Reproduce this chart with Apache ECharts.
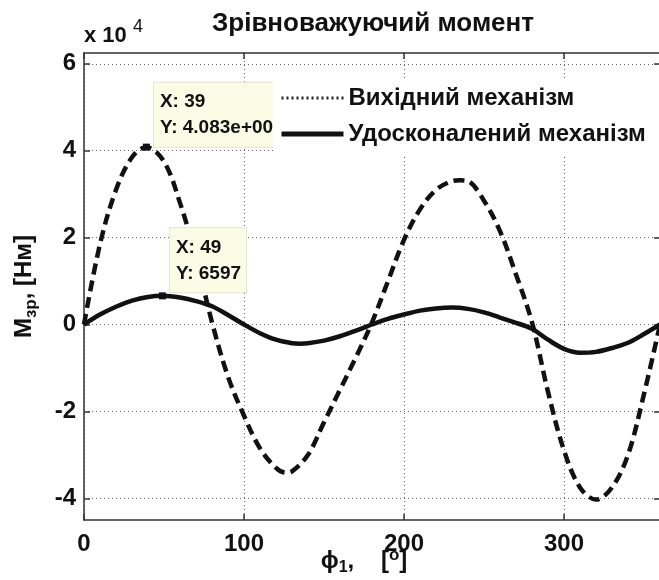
<!DOCTYPE html>
<html>
<head>
<meta charset="utf-8">
<script src="https://cdn.jsdelivr.net/npm/echarts@6/dist/echarts.min.js"></script>
<style>
html,body{margin:0;padding:0;background:#fff;}
#c{width:659px;height:580px;}
</style>
</head>
<body>
<div id="c"></div>
<script>
// ---- data ----
var titleText = 'Зрівноважуючий момент';
var seriesNames = ['Вихідний механізм', 'Удосконалений механізм'];

var phiOrig = [0,10,20,30,39,50,60,70,80,90,100,110,120,126,130,140,150,160,170,180,190,200,210,220,230,235,240,250,260,270,280,290,300,310,320,330,340,350,360];
var mOrig   = [0,18500,31000,38500,40830,37500,28000,15500,500,-12000,-21000,-28500,-33000,-34100,-33800,-30000,-22500,-15000,-7500,500,10000,19500,26500,31000,33000,33200,33000,28500,21500,11500,500,-15500,-29000,-37500,-40300,-37500,-30000,-16000,0];

var phiImpr = [0,10,20,30,40,49,60,70,80,90,100,110,120,130,135,140,150,160,170,180,190,200,210,220,230,240,250,260,270,280,290,300,310,320,330,340,350,360];
var mImpr   = [0,2300,4100,5500,6350,6597,6200,5400,4200,2200,0,-2000,-3500,-4300,-4400,-4300,-3700,-2700,-1400,0,1300,2300,3200,3700,3900,3600,2800,1600,400,-1000,-3500,-5600,-6500,-6300,-5400,-4200,-2200,0];

var tipX = [39, 49];
var tipY = [40830, 6597];

var xTicks = [0, 100, 200, 300];
var yTicks = [-40000, -20000, 0, 20000, 40000, 60000];
var yMin = -45000, yMax = 62500;
var xMin = 0, xMax = 360;

// ---- build ----
function pairs(xs, ys){ return xs.map(function(x,i){ return [x, ys[i]]; }); }
function fmtY(v){
  if (Math.abs(v) >= 10000) {
    var e = Math.floor(Math.log10(Math.abs(v)));
    var m = v / Math.pow(10, e);
    return m.toFixed(3) + 'e+' + String(e).padStart(3, '0');
  }
  return String(v);
}
function tipLabel(i){ return 'X: ' + tipX[i] + '\nY: ' + fmtY(tipY[i]); }

var FONT = 'Liberation Sans, Arial, sans-serif';
var gridColor = '#666';

var chart = echarts.init(document.getElementById('c'), null, {renderer:'canvas'});

var tipLabelStyle = {
  show: true,
  color: '#111',
  fontFamily: FONT,
  fontWeight: 'bold',
  fontSize: 19,
  lineHeight: 26,
  backgroundColor: '#fcfce6',
  borderColor: '#e4e4cc',
  borderWidth: 1,
  padding: [6, 5, 6, 6]
};

var option = {
  backgroundColor: '#fff',
  animation: false,
  title: {
    text: titleText,
    left: 368, textAlign: 'center', top: 6,
    textStyle: {fontFamily: FONT, fontWeight: 'bold', fontSize: 26, color: '#111'}
  },
  legend: {
    orient: 'vertical',
    left: 273, top: 80,
    z: 10,
    backgroundColor: '#fff',
    padding: [6, 20, 8, 6],
    itemWidth: 62, itemHeight: 14, itemGap: 12,
    textStyle: {fontFamily: FONT, fontWeight: 'bold', fontSize: 24, color: '#111'},
    itemStyle: {opacity: 0},
    data: [
      {name: seriesNames[0], itemStyle: {opacity: 0}, lineStyle: {type: [2, 3], width: 3, color: '#222'}},
      {name: seriesNames[1], itemStyle: {opacity: 0}, lineStyle: {type: 'solid', width: 5, color: '#111'}}
    ]
  },
  graphic: [{
    type: 'text', left: 84, top: 25, z: 10,
    style: {text: 'x 10', fontFamily: FONT, fontWeight: 'bold', fontSize: 22, fill: '#111'}
  }, {
    type: 'text', left: 133, top: 18, z: 10,
    style: {text: '4', fontFamily: FONT, fontWeight: 'normal', fontSize: 18, fill: '#111'}
  }],
  grid: {left: 84, right: -1, top: 53, bottom: 60, containLabel: false, outerBoundsMode: 'none'},
  xAxis: [{
    type: 'value', min: xMin, max: xMax, position: 'bottom',
    name: '{a|ϕ}{sub|1}{a|,    [}{sup|o}{a|]}',
    nameLocation: 'middle', nameGap: 27, nameMoveOverlap: false,
    nameTextStyle: {
      padding: [0, 16, 0, 0],
      rich: {
        a: {fontFamily: FONT, fontWeight: 'bold', fontSize: 24, color: '#111'},
        sub: {fontFamily: FONT, fontWeight: 'bold', fontSize: 16, color: '#111', padding: [12,0,0,0]},
        sup: {fontFamily: FONT, fontWeight: 'bold', fontSize: 17, color: '#111', padding: [0,0,12,0]}
      }
    },
    axisLine: {show: true, onZero: false, lineStyle: {color: '#333', width: 1.5}},
    axisTick: {show: true, inside: true, length: 6, customValues: xTicks, lineStyle: {color: '#333', width: 1.5}},
    axisLabel: {customValues: xTicks, margin: 12, fontFamily: FONT, fontWeight: 'bold', fontSize: 24, color: '#111'},
    splitLine: {show: true, lineStyle: {type: [1, 3], color: gridColor, width: 1}}
  }, {
    type: 'value', min: xMin, max: xMax, position: 'top',
    axisLine: {show: true, onZero: false, lineStyle: {color: '#333', width: 1.5}},
    axisTick: {show: true, inside: true, length: 6, customValues: xTicks, lineStyle: {color: '#333', width: 1.5}},
    axisLabel: {show: false},
    splitLine: {show: false}
  }],
  yAxis: [{
    type: 'value', min: yMin, max: yMax, position: 'left',
    name: '{a|M}{sub|зр}{a|, [Нм]}',
    nameLocation: 'middle', nameGap: 44, nameRotate: 90,
    nameTextStyle: {
      rich: {
        a: {fontFamily: FONT, fontWeight: 'bold', fontSize: 24, color: '#111'},
        sub: {fontFamily: FONT, fontWeight: 'bold', fontSize: 17, color: '#111', padding: [14,0,0,0]}
      }
    },
    axisLine: {show: true, onZero: false, lineStyle: {color: '#333', width: 1.5}},
    axisTick: {show: true, inside: true, length: 6, customValues: yTicks, lineStyle: {color: '#333', width: 1.5}},
    axisLabel: {customValues: yTicks, margin: 8, fontFamily: FONT, fontWeight: 'bold', fontSize: 24, color: '#111',
      formatter: function(v){ return String(Math.round(v / 10000)); }},
    splitLine: {show: true, lineStyle: {type: [1, 3], color: gridColor, width: 1}}
  }, {
    type: 'value', min: yMin, max: yMax, position: 'right',
    axisLine: {show: true, onZero: false, lineStyle: {color: '#333', width: 1.5}},
    axisTick: {show: true, inside: true, length: 6, customValues: yTicks, lineStyle: {color: '#333', width: 1.5}},
    axisLabel: {show: false},
    splitLine: {show: false}
  }],
  series: [{
    name: seriesNames[0], type: 'line', xAxisIndex: 0, yAxisIndex: 0,
    data: pairs(phiOrig, mOrig), smooth: 0.35, symbol: 'none',
    lineStyle: {color: '#111', width: 4.5, type: [11, 6]},
    markPoint: {
      symbol: 'rect', symbolSize: 7, itemStyle: {color: '#111'},
      data: [{coord: [tipX[0], tipY[0]], label: Object.assign({}, tipLabelStyle, {formatter: tipLabel(0), position: [11, -61]})}]
    }
  }, {
    name: seriesNames[1], type: 'line', xAxisIndex: 0, yAxisIndex: 0,
    data: pairs(phiImpr, mImpr), smooth: 0.35, symbol: 'none',
    lineStyle: {color: '#111', width: 4.5, type: 'solid'},
    markPoint: {
      symbol: 'rect', symbolSize: 7, itemStyle: {color: '#111'},
      data: [{coord: [tipX[1], tipY[1]], label: Object.assign({}, tipLabelStyle, {formatter: tipLabel(1), position: [11, -64]})}]
    }
  }]
};
chart.setOption(option);
</script>
</body>
</html>
